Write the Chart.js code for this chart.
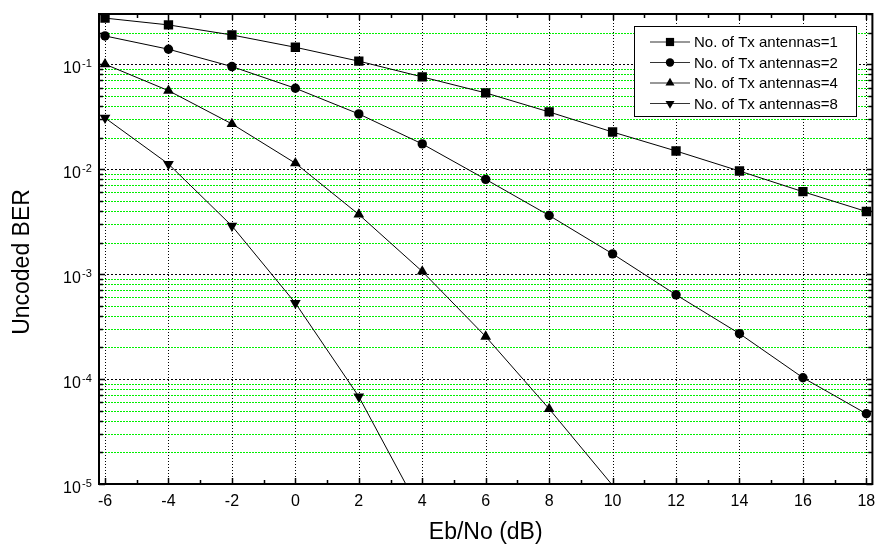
<!DOCTYPE html>
<html>
<head>
<meta charset="utf-8">
<script src="https://cdn.jsdelivr.net/npm/chart.js@4.4.1/dist/chart.umd.min.js"></script>
<style>
  html, body { margin: 0; padding: 0; background: #fff; }
  #wrap { width: 879px; height: 544px; position: relative; }
</style>
</head>
<body>
<div id="wrap"><canvas id="ber"></canvas></div>
<script>
// values
const ebno = [-6, -4, -2, 0, 2, 4, 6, 8, 10, 12, 14, 16, 18];
const ber1 = [0.275, 0.237, 0.19, 0.145, 0.107, 0.0757, 0.0533, 0.0351, 0.0226, 0.0149, 0.0096, 0.0061, 0.00395];
const ber2 = [0.186, 0.139, 0.095, 0.059, 0.0336, 0.0174, 0.0080, 0.00362, 0.00156, 0.000635, 0.000271, 0.000103, 0.0000467];
const ber4 = [0.1, 0.056, 0.027, 0.0114, 0.0037, 0.00106, 0.000254, 0.000052, 0.0000097];
const ber8 = [0.0308, 0.0112, 0.00288, 0.00053, 0.000068, 0.0000051];
const seriesLabels = ["No. of Tx antennas=1", "No. of Tx antennas=2", "No. of Tx antennas=4", "No. of Tx antennas=8"];
const xTicks = [-6, -4, -2, 0, 2, 4, 6, 8, 10, 12, 14, 16, 18];
const yDecades = [-5, -4, -3, -2, -1];

const X_MIN = -6.19, X_MAX = 18.19;
const Y_MIN = 1e-5, Y_MAX = 0.301;
const FONT = 'Arial, "Liberation Sans", sans-serif';

const toPoints = (arr) => arr.map((y, i) => ({ x: ebno[i], y }));
const isDecade = (v) => Math.abs(Math.log10(v) - Math.round(Math.log10(v))) < 1e-6;

function mkSet(label, data, style, r, rot) {
  return {
    label,
    data: toPoints(data),
    borderColor: "#000",
    borderWidth: 1,
    backgroundColor: "#000",
    pointStyle: style,
    pointRotation: rot || 0,
    pointBorderWidth: 0,
    pointRadius: (c) => (c.raw && c.raw.y < Y_MIN ? 0 : r),
    pointHoverRadius: r,
    tension: 0
  };
}

function marker(ctx, style, x, y, r, rot) {
  ctx.save();
  ctx.translate(x, y);
  ctx.rotate((rot || 0) * Math.PI / 180);
  ctx.beginPath();
  if (style === "rect") {
    const s = r * Math.SQRT1_2;
    ctx.rect(-s, -s, 2 * s, 2 * s);
  } else if (style === "circle") {
    ctx.arc(0, 0, r, 0, Math.PI * 2);
  } else {
    for (let k = 0; k < 3; k++) {
      const a = k * 2 * Math.PI / 3;
      ctx.lineTo(Math.sin(a) * r, -Math.cos(a) * r);
    }
    ctx.closePath();
  }
  ctx.fillStyle = "#000";
  ctx.fill();
  ctx.restore();
}

const decor = {
  id: "decor",
  beforeDatasetsDraw(chart) {
    const { ctx, chartArea: a, scales } = chart;
    const xs = scales.x, ys = scales.y;
    ctx.save();
    ctx.lineWidth = 1;
    // minor horizontal grid (green), then decades (black)
    ctx.strokeStyle = "#00f000";
    ctx.setLineDash([2, 1]);
    ctx.beginPath();
    ys.ticks.forEach((t) => {
      if (isDecade(t.value)) return;
      const py = Math.round(ys.getPixelForValue(t.value)) + 0.5;
      ctx.moveTo(a.left, py); ctx.lineTo(a.right, py);
    });
    ctx.stroke();
    ctx.strokeStyle = "#000";
    ctx.setLineDash([2, 2]);
    ctx.beginPath();
    ys.ticks.forEach((t) => {
      if (!isDecade(t.value)) return;
      const py = Math.round(ys.getPixelForValue(t.value)) + 0.5;
      ctx.moveTo(a.left, py); ctx.lineTo(a.right, py);
    });
    ctx.stroke();
    // vertical grid
    ctx.setLineDash([1, 2]);
    ctx.beginPath();
    xs.ticks.forEach((t) => {
      const px = Math.round(xs.getPixelForValue(t.value)) + 0.5;
      ctx.moveTo(px, a.top); ctx.lineTo(px, a.bottom);
    });
    ctx.stroke();
    ctx.restore();
  },
  afterDatasetsDraw(chart) {
    const { ctx, chartArea: a, scales } = chart;
    const xs = scales.x, ys = scales.y;
    ctx.save();
    ctx.strokeStyle = "#000";

    // inward ticks on all four sides
    ctx.lineWidth = 1.5;
    ctx.beginPath();
    for (let v = -6; v <= 18; v++) {
      const px = Math.round(xs.getPixelForValue(v)) + 0.5;
      const len = v % 2 === 0 ? 6 : 4;
      ctx.moveTo(px, a.bottom); ctx.lineTo(px, a.bottom - len);
      ctx.moveTo(px, a.top); ctx.lineTo(px, a.top + len);
    }
    ys.ticks.forEach((t) => {
      const py = Math.round(ys.getPixelForValue(t.value)) + 0.5;
      const len = isDecade(t.value) ? 6 : 4;
      ctx.moveTo(a.left, py); ctx.lineTo(a.left + len, py);
      ctx.moveTo(a.right, py); ctx.lineTo(a.right - len, py);
    });
    ctx.stroke();

    // frame
    ctx.lineWidth = 2;
    ctx.strokeRect(a.left, a.top, a.right - a.left, a.bottom - a.top);

    // legend
    const lx = 634, ly = 26, lw = 222, lh = 90;
    ctx.fillStyle = "#fff";
    ctx.fillRect(lx, ly, lw, lh);
    ctx.lineWidth = 1;
    ctx.strokeRect(lx + 0.5, ly + 0.5, lw, lh);
    const legR = [5.8, 4.2, 5.2, 5.2];
    ctx.font = "15px " + FONT;
    ctx.textBaseline = "middle";
    chart.data.datasets.forEach((ds, i) => {
      const cy = 42 + i * 20.5;
      ctx.strokeStyle = "#333";
      ctx.lineWidth = 1.2;
      ctx.beginPath();
      ctx.moveTo(650, cy); ctx.lineTo(690, cy);
      ctx.stroke();
      marker(ctx, ds.pointStyle, 670, cy, legR[i], ds.pointRotation);
      ctx.fillStyle = "#000";
      ctx.fillText(ds.label, 694, cy + 1);
    });
    ctx.restore();
  },
  afterDraw(chart) {
    const { ctx, chartArea: a, scales } = chart;
    ctx.save();
    ctx.fillStyle = "#000";

    // x tick labels
    ctx.font = "16px " + FONT;
    ctx.textAlign = "center";
    ctx.textBaseline = "alphabetic";
    xTicks.forEach((v) => {
      ctx.fillText(String(v), scales.x.getPixelForValue(v), a.bottom + 22);
    });

    // y tick labels 10^n
    yDecades.forEach((e) => {
      const py = scales.y.getPixelForValue(Math.pow(10, e));
      ctx.textAlign = "left";
      ctx.font = "16px " + FONT;
      ctx.fillText("10", 63, py + 9);
      ctx.font = "11px " + FONT;
      ctx.fillText(String(e), 82, py + 3);
    });

    // axis titles
    ctx.font = "23px " + FONT;
    ctx.textAlign = "center";
    ctx.fillText("Eb/No (dB)", (a.left + a.right) / 2, 539);
    ctx.translate(29, 262);
    ctx.rotate(-Math.PI / 2);
    ctx.fillText("Uncoded BER", 0, 0);
    ctx.restore();
  }
};

new Chart(document.getElementById("ber"), {
  type: "line",
  data: {
    datasets: [
      mkSet(seriesLabels[0], ber1, "rect", 6.6),
      mkSet(seriesLabels[1], ber2, "circle", 4.7),
      mkSet(seriesLabels[2], ber4, "triangle", 6.2),
      mkSet(seriesLabels[3], ber8, "triangle", 6.2, 180)
    ]
  },
  options: {
    responsive: true,
    maintainAspectRatio: false,
    animation: false,
    layout: { padding: { left: 99, top: 14, right: 4, bottom: 60 } },
    plugins: { legend: { display: false }, tooltip: { enabled: false } },
    scales: {
      x: {
        type: "linear",
        min: X_MIN,
        max: X_MAX,
        afterBuildTicks: (s) => { s.ticks = xTicks.map((v) => ({ value: v })); },
        ticks: { display: false },
        grid: { display: false, drawTicks: false },
        border: { display: false }
      },
      y: {
        type: "logarithmic",
        min: Y_MIN,
        max: Y_MAX,
        afterBuildTicks: (s) => {
          const t = [];
          yDecades.forEach((e) => {
            for (let m = 1; m <= 9; m++) {
              const v = m * Math.pow(10, e);
              if (v <= Y_MAX) t.push({ value: v, major: m === 1 });
            }
          });
          s.ticks = t;
        },
        ticks: { display: false },
        grid: { display: false, drawTicks: false },
        border: { display: false }
      }
    }
  },
  plugins: [decor]
});
</script>
</body>
</html>
